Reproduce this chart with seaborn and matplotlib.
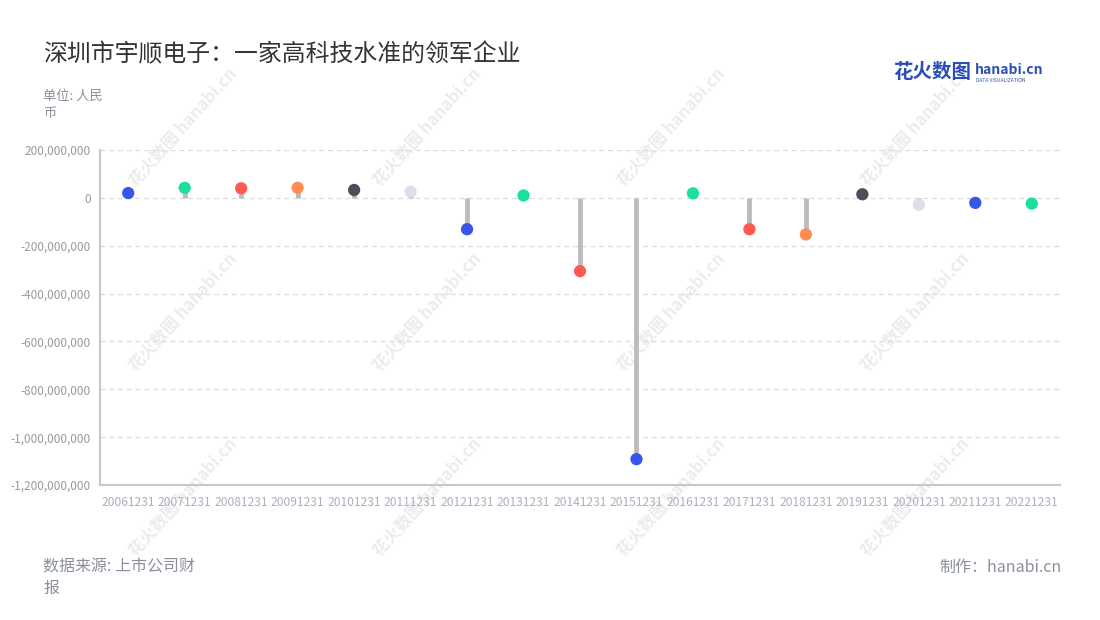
import matplotlib
matplotlib.use("Agg")
import matplotlib.pyplot as plt
import matplotlib.ticker as mticker
import seaborn as sns
import pandas as pd

# report dates and net profit (RMB)
dates = ["20061231", "20071231", "20081231", "20091231", "20101231", "20111231",
         "20121231", "20131231", "20141231", "20151231", "20161231", "20171231",
         "20181231", "20191231", "20201231", "20211231", "20221231"]
profit = [20e6, 42e6, 40e6, 42e6, 33e6, 26e6,
          -131e6, 10e6, -306e6, -1092e6, 19e6, -131e6,
          -153e6, 15e6, -29e6, -21e6, -24e6]
dot_colors = ["#3a56e8", "#1ddf9c", "#ff5a52", "#ff8c52", "#4e4e5a", "#dde0ea",
              "#3a56e8", "#1ddf9c", "#ff5a52", "#3a56e8", "#1ddf9c", "#ff5a52",
              "#ff8c52", "#4e4e5a", "#dde0ea", "#3a56e8", "#1ddf9c"]
y_ticks = [200e6, 0, -200e6, -400e6, -600e6, -800e6, -1000e6, -1200e6]

df = pd.DataFrame({"date": dates, "profit": profit})

sns.set_style("white")
plt.rcParams["font.family"] = ["Noto Sans CJK SC", "DejaVu Sans"]

fig = plt.figure(figsize=(11, 6.2), dpi=100)
ax = fig.add_axes([100 / 1100, 1 - 485 / 620, 960 / 1100, 335 / 620])
ax.patch.set_alpha(0)

# faint background watermarks
for wy in [127, 312, 497]:
    for wx in [183, 427, 671, 915]:
        fig.text(wx / 1100, 1 - wy / 620, "花火数图 hanabi.cn", fontsize=12,
                 fontweight="bold", color="#ececec", rotation=48,
                 rotation_mode="anchor", ha="center", va="center", zorder=-1)

# dashed grid
for t in y_ticks[:-1]:
    ax.axhline(t, color="#dcdcdc", lw=0.9, ls=(0, (4, 3)), zorder=0)

# stems
ax.vlines(df["date"], 0, df["profit"], color="#bcbcbc", lw=3.5, zorder=1)
sns.scatterplot(data=df, x="date", y="profit", hue="date", palette=dot_colors,
                legend=False, s=78, edgecolor="none", zorder=3, ax=ax)

ax.set_xlim(-0.5, len(dates) - 0.5)
ax.set_ylim(-1200e6, 200e6)
ax.set_yticks(y_ticks)
ax.yaxis.set_major_formatter(mticker.FuncFormatter(lambda v, p: f"{int(v):,}"))
ax.set_xlabel("")
ax.set_ylabel("")
ax.tick_params(axis="y", colors="#c8c8c8", labelcolor="#999999", labelsize=8.5,
               length=5, width=1, pad=1.5)
ax.tick_params(axis="x", colors="#c8c8c8", labelcolor="#aab0c0", labelsize=8.7,
               length=5, width=1, pad=3)
for side in ["top", "right"]:
    ax.spines[side].set_visible(False)
for side in ["left", "bottom"]:
    ax.spines[side].set_color("#c8c8c8")
    ax.spines[side].set_linewidth(1.5)

# texts
fig.text(43 / 1100, 1 - 55 / 620, "深圳市宇顺电子：一家高科技水准的领军企业",
         fontsize=17.2, color="#333333", va="center")
fig.text(43 / 1100, 1 - 96 / 620, "单位: 人民", fontsize=9.5, color="#8a8f9c", va="center")
fig.text(43 / 1100, 1 - 113 / 620, "币", fontsize=9.5, color="#8a8f9c", va="center")
fig.text(43 / 1100, 1 - 567 / 620, "数据来源: 上市公司财", fontsize=11.5, color="#8a8f9c", va="center")
fig.text(43 / 1100, 1 - 588 / 620, "报", fontsize=11.5, color="#8a8f9c", va="center")
fig.text(1062 / 1100, 1 - 567 / 620, "制作：hanabi.cn", fontsize=11.5, color="#8a8f9c",
         va="center", ha="right")

# logo
fig.text(893 / 1100, 1 - 72 / 620, "花火数图", fontsize=14, color="#2a4db8",
         fontweight="bold", va="center")
fig.text(975 / 1100, 1 - 70 / 620, "hanabi.cn", fontsize=10, color="#2a4db8",
         fontweight="bold", va="center")
fig.text(976 / 1100, 1 - 80 / 620, "DATA VISUALIZATION", fontsize=3.6, color="#2a4db8",
         va="center")

fig.savefig("out.png", dpi=100)
